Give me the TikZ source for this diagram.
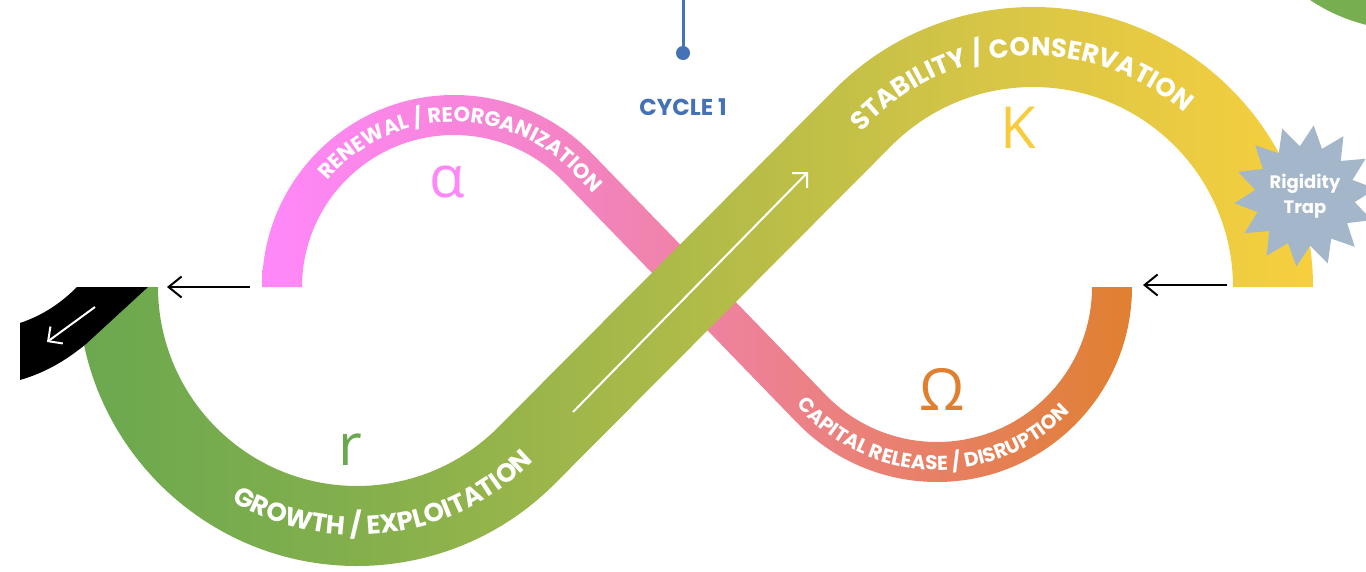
\documentclass[tikz,border=0pt]{standalone}
\usepackage{fontspec}
\setmainfont{Poppins}
\newfontfamily\lab{Poppins}
\newfontfamily\greekfont{Open Sans}
\usetikzlibrary{decorations.text,shapes.geometric,arrows.meta,calc}
\definecolor{cycleblue}{HTML}{4472B4}
\definecolor{alphapink}{HTML}{FF88F8}
\definecolor{kyellow}{HTML}{F7CC3C}
\definecolor{omegaorange}{HTML}{E07F2E}
\definecolor{rgreen}{HTML}{6AA84F}
\definecolor{trapgrey}{HTML}{A4B6C9}
\definecolor{topgreen}{HTML}{76AE50}
\definecolor{pk0}{HTML}{FF88FA}
\definecolor{pk1}{HTML}{F785D8}
\definecolor{pk2}{HTML}{EF82A4}
\definecolor{pk3}{HTML}{E8806A}
\definecolor{pk4}{HTML}{E08030}
\definecolor{gy0}{HTML}{6AA84F}
\definecolor{gy1}{HTML}{86B04C}
\definecolor{gy2}{HTML}{B0BB48}
\definecolor{gy3}{HTML}{D9C646}
\definecolor{gy4}{HTML}{F7CF3E}
\pgfdeclarehorizontalshading{pinkband}{100bp}{color(0bp)=(pk0); color(25bp)=(pk0); color(37.5bp)=(pk1); color(50bp)=(pk2); color(62.5bp)=(pk3); color(75bp)=(pk4); color(100bp)=(pk4)}
\pgfdeclarehorizontalshading{greenband}{100bp}{color(0bp)=(gy0); color(25bp)=(gy0); color(37.5bp)=(gy1); color(50bp)=(gy2); color(62.5bp)=(gy3); color(75bp)=(gy4); color(100bp)=(gy4)}
\newcommand\bandfont[1]{\lab\bfseries\fontsize{#1}{#1}\selectfont}
\tikzset{
  blackarrow/.style={black, line width=2pt, -{Straight Barb[length=13pt,width=21pt]}},
  whitearrow/.style={white, line width=2pt, -{Straight Barb[length=10.5pt,width=21pt]}},
  greekletter/.style={anchor=base, inner sep=0pt, font=\greekfont\fontsize{58pt}{58pt}\selectfont},
  bandtext/.style={decorate, decoration={text along path, text align=left, text color=white}},
}
\begin{document}
\begin{tikzpicture}[x=1pt,y=1pt]
\useasboundingbox (0,-571) rectangle (1366,0);
% top-right green disc
\begin{scope}
\clip (0,-571) rectangle (1366,0);
\fill[topgreen] (1409,148) circle (178);
\end{scope}
% cycle marker
\coordinate (pintop) at (683,0);
\coordinate (pin) at (683,-53);
\draw[cycleblue, line width=3pt] (pintop) -- (pin);
\fill[cycleblue] (pin) circle (7);
\node[cycleblue, font=\lab\bfseries\fontsize{23pt}{23pt}\selectfont] (cycle) at (683,-107) {CYCLE 1};
% pink / orange band
\shade[shading=pinkband] (262,-287) arc[start angle=180,end angle=44.08,radius=192]
  -- ($(937,-287)+(224.08:155)$) arc[start angle=224.08,end angle=360,radius=155]
  -- (1132,-287) arc[start angle=360,end angle=224.08,radius=195]
  -- ($(454,-287)+(44.08:152)$) arc[start angle=44.08,end angle=180,radius=152] -- cycle;
% green / yellow band
\shade[shading=greenband] (78,-287) arc[start angle=180,end angle=315.12,radius=279]
  -- ($(1033,-287)+(135.12:200)$) arc[start angle=135.12,end angle=0,radius=200]
  -- (1313,-287) arc[start angle=0,end angle=135.12,radius=280]
  -- ($(357,-287)+(315.12:199)$) arc[start angle=315.12,end angle=180,radius=199] -- cycle;
% black exit piece
\fill[black] (77,-287) -- (148,-287) -- (86,-344) .. controls (64,-362) and (44,-373) .. (20,-380)
  -- (20,-323) .. controls (44,-315) and (62,-302) .. (77,-287) -- cycle;
\coordinate (ex1) at (95,-307);
\coordinate (ex2) at (47,-342);
\draw[whitearrow] (ex1) -- (ex2);
% white arrow on diagonal
\coordinate (wa1) at (573,-412);
\coordinate (wa2) at (808,-172);
\draw[whitearrow] (wa1) -- (wa2);
% black arrows
\coordinate (la1) at (250,-287);
\coordinate (la2) at (167,-287);
\draw[blackarrow] (la1) -- (la2);
\coordinate (ra1) at (1227,-285);
\coordinate (ra2) at (1143,-285);
\draw[blackarrow] (ra1) -- (ra2);
% band texts
\path[bandtext, decoration={text={|\bandfont{21pt}|RENEWAL / REORGANIZATION}}]
  ($(454,-287)+(140:165)$) arc[start angle=140,end angle=44.08,radius=165] -- ++(-45.92:80);
\path[bandtext, decoration={text={|\bandfont{26pt}|STABILITY / CONSERVATION}}]
  ($(1033,-287)+(138:231)$) arc[start angle=138,end angle=20,radius=231];
\path[bandtext, decoration={text={|\bandfont{20pt}|CAPITAL RELEASE / DISRUPTION}}]
  ($(937,-287)+(220:183)$) arc[start angle=220,end angle=340,radius=183];
\path[bandtext, decoration={text={|\bandfont{26pt}|GROWTH / EXPLOITATION}}]
  ($(357,-287)+(239.6:248)$) arc[start angle=239.6,end angle=315.12,radius=248] -- ++(45.12:80);
% greek letters
\node[greekletter, text=alphapink] (alpha) at (447,-197) {α};
\node[greekletter, text=rgreen] (rr) at (350,-465) {r};
\node[greekletter, text=kyellow] (kk) at (1018,-148) {K};
\node[greekletter, text=omegaorange] (om) at (942,-410) {Ω};
% rigidity trap
\node[star, star points=14, star point ratio=1.42, fill=trapgrey, minimum size=130pt, inner sep=0pt,
  shape border rotate=-7, text=white, align=center,
  font=\lab\bfseries\fontsize{18pt}{25pt}\selectfont] (trap) at (1305,-196) {Rigidity\\Trap};
\end{tikzpicture}
\end{document}
